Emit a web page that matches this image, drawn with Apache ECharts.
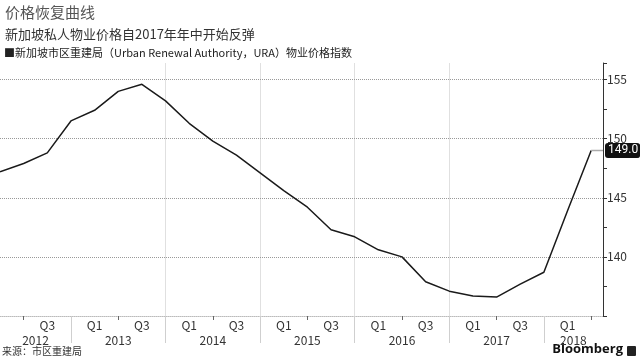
<!DOCTYPE html>
<html>
<head>
<meta charset="utf-8">
<script src="https://cdn.jsdelivr.net/npm/echarts@6/dist/echarts.min.js"></script>
<style>html,body{margin:0;padding:0;background:#fff}#c{width:640px;height:360px}</style>
</head>
<body>
<div id="c"></div>
<script>
var quarters = ['2012 Q1','2012 Q2','2012 Q3','2012 Q4','2013 Q1','2013 Q2','2013 Q3','2013 Q4',
  '2014 Q1','2014 Q2','2014 Q3','2014 Q4','2015 Q1','2015 Q2','2015 Q3','2015 Q4',
  '2016 Q1','2016 Q2','2016 Q3','2016 Q4','2017 Q1','2017 Q2','2017 Q3','2017 Q4',
  '2018 Q1','2018 Q2'];
var priceIndex = [147.2,147.9,148.8,151.5,152.4,154.0,154.6,153.2,
  151.3,149.8,148.6,147.1,145.6,144.2,142.3,141.7,
  140.6,140.0,137.9,137.1,136.7,136.6,137.7,138.7,
  143.9,149.0];
var years = ['2012','2013','2014','2015','2016','2017','2018'];
var yTickLabels = [140,145,150,155];

var FONT = '"Noto Sans CJK SC","Noto Sans",sans-serif';
var xMax = quarters.length - 0.5;
var seriesData = priceIndex.map(function(v,i){return [i,v];});
var last = priceIndex[priceIndex.length-1];

var qLabelVals = [], midTicks = [], yearEnds = [];
quarters.forEach(function(q,i){
  var qq = q.split(' ')[1];
  if ((qq==='Q1' || qq==='Q3') && i>0) qLabelVals.push(i);
  if (qq==='Q2') midTicks.push(i);
  if (qq==='Q4') yearEnds.push(i);
});
var yearCenters = years.map(function(y,k){
  var a = Math.max(0, 4*k-1), b = Math.min(xMax, 4*k+3);
  return (a+b)/2;
});

var chart = echarts.init(document.getElementById('c'));
chart.setOption({
  animation:false,
  backgroundColor:'#fff',
  textStyle:{fontFamily:FONT},
  graphic:[
    {type:'text',left:5,top:5,style:{text:'价格恢复曲线',fontSize:15,fill:'#555',fontFamily:FONT}},
    {type:'text',left:5,top:28,style:{text:'新加坡私人物业价格自2017年年中开始反弹',fontSize:13,fill:'#333',fontFamily:FONT}},
    {type:'text',left:4,top:47,style:{text:'■新加坡市区重建局（Urban Renewal Authority，URA）物业价格指数',fontSize:11,fill:'#222',fontFamily:FONT}},
    {type:'text',left:2,top:346,style:{text:'来源：市区重建局',fontSize:10,fill:'#333',fontFamily:FONT}},
    {type:'text',right:17,top:343,style:{text:'Bloomberg',fontSize:13,fontWeight:'bold',fill:'#111',fontFamily:'"Open Sans","Noto Sans",sans-serif'}},
    {type:'rect',right:4,top:346,shape:{width:9,height:10,r:1},style:{fill:'#222'}}
  ],
  grid:{left:0,right:37,top:63,bottom:44,containLabel:false,show:false,borderWidth:0},
  xAxis:[{
    type:'value',min:0,max:xMax,
    axisLine:{show:true,onZero:false,lineStyle:{color:'#bbb',type:'dotted'}},
    axisTick:{show:true,customValues:midTicks,length:4,lineStyle:{color:'#666'}},
    axisLabel:{customValues:qLabelVals,margin:3,fontSize:12,color:'#333',
      formatter:function(v){var i=Math.round(v);return quarters[i]?quarters[i].split(' ')[1]:'';}},
    splitLine:{show:false}
  },{
    type:'value',min:0,max:xMax,position:'bottom',
    axisLine:{show:false,onZero:false},
    axisTick:{show:true,customValues:yearEnds,length:27,lineStyle:{color:'#cfcfcf'}},
    axisLabel:{customValues:yearCenters,margin:18,fontSize:12,color:'#333',
      formatter:function(v){for(var k=0;k<yearCenters.length;k++){if(Math.abs(yearCenters[k]-v)<0.01)return years[k];}return '';}},
    splitLine:{show:true,showMinLine:false,showMaxLine:false,lineStyle:{color:'#e0e0e0',width:1}}
  }],
  yAxis:[{
    type:'value',position:'right',min:135,max:156.4,interval:2.5,
    axisLine:{show:true,onZero:false,lineStyle:{color:'#333',width:1}},
    axisTick:{show:true,length:4,lineStyle:{color:'#333'}},
    axisLabel:{margin:4,fontSize:12,color:'#333',
      formatter:function(v){return yTickLabels.indexOf(Math.round(v*10)/10)>=0 ? String(v) : '';}},
    splitLine:{show:false}
  }],
  series:[{
    type:'line',data:seriesData,xAxisIndex:0,yAxisIndex:0,z:3,
    symbol:'none',lineStyle:{color:'#1a1a1a',width:1.5},
    markLine:{
      silent:true,symbol:'none',z:1,
      lineStyle:{color:'#999',type:'dotted',width:1},
      label:{show:false},
      data:yTickLabels.map(function(v){return {yAxis:v};})
    },
    markPoint:{
      symbol:'rect',symbolSize:0,
      data:[{coord:[xMax,last],value:last}],
      label:{show:true,position:'right',distance:2,
        formatter:function(p){return p.value.toFixed(1);},
        backgroundColor:'#111',color:'#fff',fontSize:12,padding:[2,2,1,3],borderRadius:3,fontFamily:'Roboto,sans-serif'}
    }
  },{
    type:'line',data:[[priceIndex.length-1,last],[xMax,last]],
    symbol:'none',lineStyle:{color:'#aaa',width:1.5},silent:true
  }]
});
</script>
</body>
</html>
